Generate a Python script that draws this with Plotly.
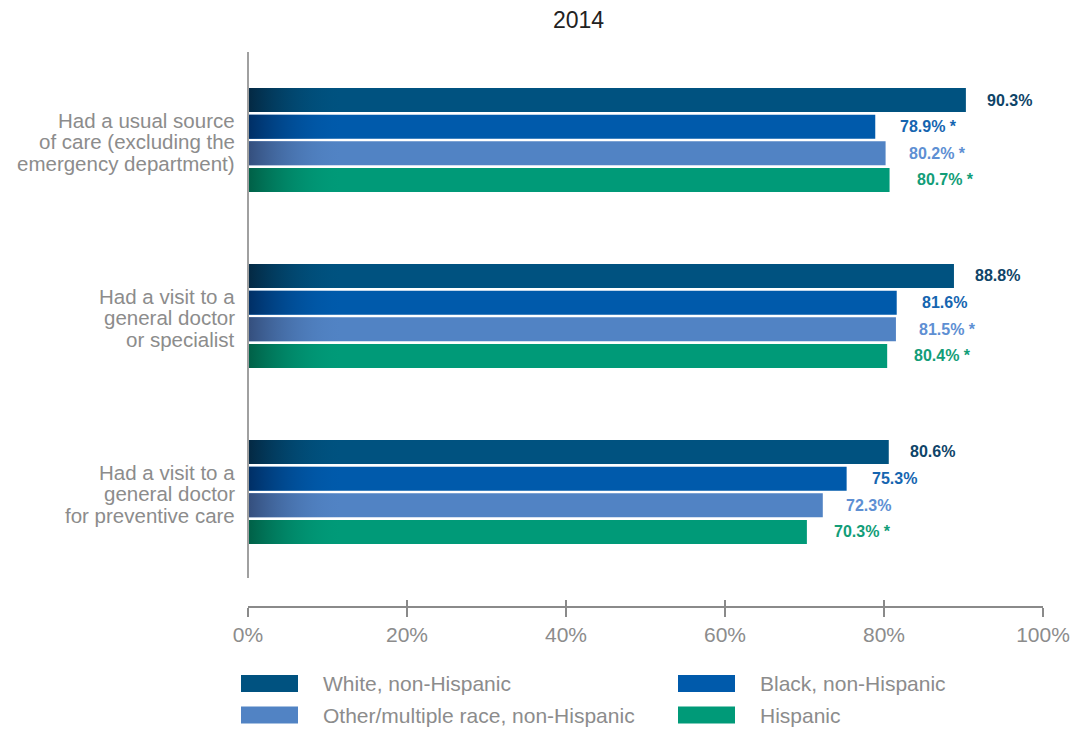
import plotly.graph_objects as go

categories = [
    "Had a usual source<br>of care (excluding the<br>emergency department)",
    "Had a visit to a<br>general doctor<br>or specialist",
    "Had a visit to a<br>general doctor<br>for preventive care",
]
series_names = ["White, non-Hispanic", "Black, non-Hispanic",
                "Other/multiple race, non-Hispanic", "Hispanic"]
white = [90.3, 88.8, 80.6]
black = [78.9, 81.6, 75.3]
other = [80.2, 81.5, 72.3]
hispanic = [80.7, 80.4, 70.3]
white_sig = ["", "", ""]
black_sig = [" *", "", ""]
other_sig = [" *", " *", ""]
hispanic_sig = [" *", " *", " *"]
x_ticks = [0, 20, 40, 60, 80, 100]
x_tick_labels = ["0%", "20%", "40%", "60%", "80%", "100%"]
title_text = "2014"

values = [white, black, other, hispanic]
sigs = [white_sig, black_sig, other_sig, hispanic_sig]
bar_colors = ["#005280", "#005aab", "#5183c4", "#009a78"]
dark_colors = ["rgba(4,40,66,1)", "rgba(0,46,100,1)", "rgba(52,78,124,1)", "rgba(0,95,70,1)"]
clear_colors = ["rgba(0,82,128,0)", "rgba(0,90,171,0)", "rgba(81,131,196,0)", "rgba(0,154,120,0)"]
label_colors = ["#0e4468", "#1565b0", "#5e8fd3", "#129d78"]
label_gap = [19.5, 23, 21.5, 25]

FONT = "Liberation Sans, Arial, Helvetica, sans-serif"
gray = "#8c8c8c"
axis_gray = "#8a8a8a"

W, H = 1071, 730
PX_L, PX_R, PX_T, PX_B = 248, 1043, 52, 606  # plot area in pixels
def px_x(px):
    return (px - PX_L) / (PX_R - PX_L)
def px_y(py):
    return (PX_B - py) / (PX_B - PX_T)

ypos = list(range(len(categories)))
pitch = 0.1515
bar_w = 0.136
grad_end = 12

fig = go.Figure()
for k, (name, vals) in enumerate(zip(series_names, values)):
    fig.add_trace(go.Bar(
        y=ypos, x=vals, orientation="h", name=name,
        marker=dict(color=bar_colors[k], line=dict(width=0)),
        showlegend=False, hoverinfo="x+name",
    ))

# gradient overlays on the left end of each bar, and value labels
for k, vals in enumerate(values):
    for i, v in enumerate(vals):
        yc = ypos[i] + (k - 1.5) * pitch
        y0, y1 = yc - bar_w / 2, yc + bar_w / 2
        xe = min(grad_end, v)
        fig.add_trace(go.Scatter(
            x=[0, xe, xe, 0, 0], y=[y0, y0, y1, y1, y0],
            mode="lines", line=dict(width=0), fill="toself",
            fillgradient=dict(type="horizontal", start=0, stop=xe,
                              colorscale=[[0, dark_colors[k]], [1, clear_colors[k]]]),
            showlegend=False, hoverinfo="skip",
        ))
        fig.add_annotation(
            x=v, y=yc, xref="x", yref="y", xanchor="left", yanchor="middle",
            xshift=label_gap[k], text="<b>%.1f%%%s</b>" % (v, sigs[k][i]), showarrow=False,
            font=dict(family=FONT, size=16, color=label_colors[k]),
        )

# category labels (one annotation per line for tight line spacing)
for i, cat in enumerate(categories):
    lines = cat.split("<br>")
    n = len(lines)
    for j, ln in enumerate(lines):
        fig.add_annotation(
            x=0, y=ypos[i], xref="paper", yref="y", xanchor="right", yanchor="middle",
            xshift=-11, yshift=-((j - (n - 1) / 2) * 21.7) - 2,
            text=ln, showarrow=False, font=dict(family=FONT, size=20.5, color=gray),
        )

# x axis twin for the inside half of the ticks
fig.add_trace(go.Scatter(x=[0], y=[0], xaxis="x2", mode="markers",
                         marker=dict(opacity=0), showlegend=False, hoverinfo="skip"))

fig.update_layout(
    width=W, height=H, autosize=False,
    margin=dict(l=PX_L, r=W - PX_R, t=PX_T, b=H - PX_B, pad=0),
    paper_bgcolor="white", plot_bgcolor="white",
    barmode="group", bargap=0.394, bargroupgap=0.1,
    font=dict(family=FONT, color=gray),
    xaxis=dict(range=[0, 100], tickvals=x_ticks, ticktext=x_tick_labels, automargin=False,
               showgrid=False, zeroline=False, showline=True, linecolor=axis_gray, linewidth=2,
               ticks="outside", ticklen=9, tickwidth=2, tickcolor=axis_gray,
               tickfont=dict(family=FONT, size=21, color=gray), fixedrange=True),
    xaxis2=dict(range=[0, 100], overlaying="x", side="bottom", anchor="y", automargin=False,
                tickvals=x_ticks, showticklabels=False, showgrid=False, zeroline=False,
                ticks="inside", ticklen=6, tickwidth=2, tickcolor=axis_gray),
    yaxis=dict(range=[2.648, -0.5], tickvals=ypos, showticklabels=False, automargin=False,
               showgrid=False, zeroline=False, showline=False, ticks=""),
    showlegend=False,
)

# vertical axis line
fig.add_shape(type="line", xref="paper", yref="paper", x0=0, x1=0, y0=px_y(578), y1=1,
              line=dict(color="#a0a0a0", width=2))

# title
fig.add_annotation(text=title_text, xref="paper", yref="paper", x=px_x(578), y=px_y(20),
                   xanchor="center", yanchor="middle", showarrow=False,
                   font=dict(family=FONT, size=23, color="#222222"))

# manual legend
leg_pos = [(241, 683.5), (678, 683.5), (241, 715), (678, 715)]
for k, (px, py) in enumerate(leg_pos):
    fig.add_shape(type="rect", xref="paper", yref="paper",
                  x0=px_x(px), x1=px_x(px + 57), y0=px_y(py + 8.5), y1=px_y(py - 8.5),
                  fillcolor=bar_colors[k], line=dict(width=0))
    fig.add_annotation(text=series_names[k], xref="paper", yref="paper",
                       x=px_x(px + 80), y=px_y(py), xanchor="left", yanchor="middle",
                       showarrow=False, font=dict(family=FONT, size=21, color=gray))

# remove the default page margin so the 1071x730 figure fills the window exactly
fig.write_html("out.html", config={"displayModeBar": False},
               post_script="document.body.style.margin='0';document.body.style.overflow='hidden';")
